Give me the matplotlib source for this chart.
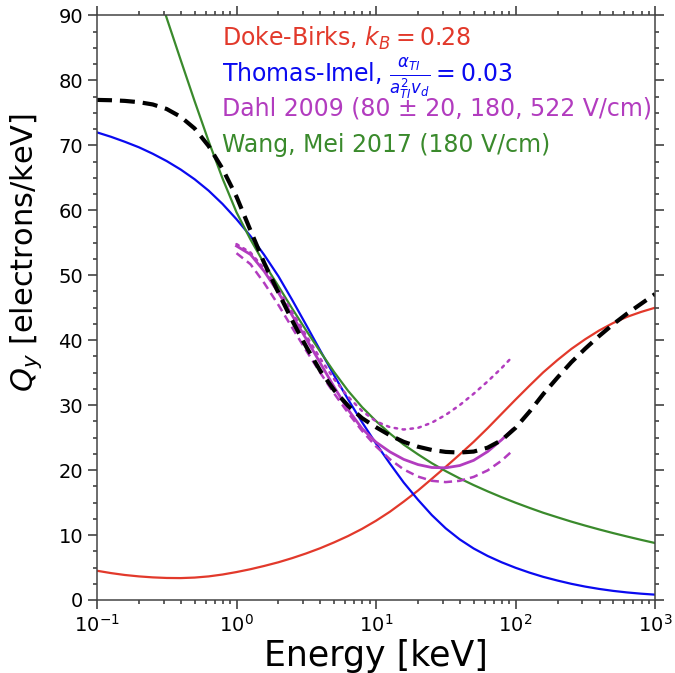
import matplotlib
matplotlib.use("Agg")
import matplotlib.pyplot as plt
from matplotlib.ticker import AutoMinorLocator, LogLocator

# Energy grid (keV), ten points per decade
energy = [0.1, 0.126, 0.158, 0.2, 0.251, 0.316, 0.398, 0.501, 0.631, 0.794,
          1, 1.26, 1.58, 2.0, 2.51, 3.16, 3.98, 5.01, 6.31, 7.94,
          10, 12.6, 15.8, 20.0, 25.1, 31.6, 39.8, 50.1, 63.1, 79.4,
          100, 126, 158, 200, 251, 316, 398, 501, 631, 794, 1000]

# Charge yield Q_y [electrons/keV]
doke_birks = [4.5, 4.14, 3.85, 3.63, 3.48, 3.39, 3.37, 3.45, 3.63, 3.92,
              4.3, 4.74, 5.24, 5.81, 6.45, 7.17, 7.97, 8.87, 9.85, 10.95,
              12.2, 13.6, 15.15, 16.85, 18.65, 20.5, 22.4, 24.35, 26.45, 28.65,
              30.85, 33.0, 35.05, 36.95, 38.65, 40.15, 41.5, 42.65, 43.6, 44.35,
              45.0]
thomas_imel = [72.0, 71.32, 70.56, 69.70, 68.71, 67.58, 66.28, 64.78, 63.03, 60.98,
               58.63, 56.03, 53.13, 49.83, 46.18, 42.33, 38.43, 34.58, 30.88, 27.38,
               24.08, 20.98, 18.08, 15.43, 13.08, 11.03, 9.33, 7.93, 6.78, 5.81,
               4.96, 4.21, 3.56, 2.99, 2.49, 2.06, 1.70, 1.40, 1.16, 0.97,
               0.82]
combined = [77.0, 76.95, 76.85, 76.65, 76.30, 75.6, 74.4, 72.6, 69.9, 66.4,
            62.1, 56.9, 51.9, 47.3, 43.0, 39.0, 35.3, 32.3, 29.9, 28.0,
            26.6, 25.35, 24.35, 23.6, 23.1, 22.8, 22.7, 22.85, 23.45, 24.6,
            26.5, 29.0, 31.7, 34.25, 36.6, 38.7, 40.65, 42.45, 44.1, 45.6,
            47.1]

# Wang & Mei 2017 (180 V/cm)
wang_energy = energy[4:]
wang_mei = [96.1, 89.6, 83.15, 76.8, 70.65, 64.9,
            59.7, 55.5, 51.8, 48.3, 44.85, 41.5, 38.25, 35.1, 32.2, 29.7,
            27.55, 25.62, 23.92, 22.42, 21.07, 19.84, 18.72, 17.69, 16.73, 15.83,
            14.98, 14.18, 13.43, 12.73, 12.07, 11.45, 10.86, 10.3, 9.77, 9.26,
            8.77]

# Dahl 2009 fits at 80, 180 and 522 V/cm
dahl_energy = [1, 1.26, 1.58, 2.0, 2.51, 3.16, 3.98, 5.01, 6.31, 7.94,
               10, 12.6, 15.8, 20.0, 25.1, 31.6, 39.8, 50.1, 63.1, 79.4, 95]
dahl_80 = [54.8, 53.5, 51.0, 47.8, 44.3, 40.7, 37.2, 34.0, 31.3, 29.1,
           27.5, 26.6, 26.25, 26.5, 27.3, 28.5, 30.0, 31.75, 33.65, 35.7, 37.46]
dahl_180 = [54.5, 53.2, 50.6, 47.3, 43.8, 40.2, 36.5, 32.8, 29.3, 26.4,
            24.3, 22.8, 21.65, 20.85, 20.4, 20.35, 20.7, 21.5, 22.85, 24.65, 26.25]
dahl_522 = [53.4, 51.7, 48.8, 45.4, 41.9, 38.4, 35.0, 31.8, 28.8, 26.05,
            23.65, 21.65, 20.1, 19.0, 18.35, 18.15, 18.35, 18.95, 19.95, 21.45, 22.97]

labels = [
    r"Doke-Birks, $k_B = 0.28$",
    r"Thomas-Imel, $\frac{\alpha_{TI}}{a_{TI}^2 v_d} = 0.03$",
    "Dahl 2009 (80 ± 20, 180, 522 V/cm)",
    "Wang, Mei 2017 (180 V/cm)",
]

RED = "#e2392b"
BLUE = "#0a0af0"
MAGENTA = "#b23cbf"
GREEN = "#3a8a2c"

fig = plt.figure(figsize=(6.75, 6.73), dpi=100)
ax = fig.add_axes([0.1437, 0.1085, 0.8267, 0.8685])

ax.plot(energy, doke_birks, color=RED, lw=1.6)
ax.plot(energy, thomas_imel, color=BLUE, lw=1.6)
ax.plot(wang_energy, wang_mei, color=GREEN, lw=1.6)
ax.plot(dahl_energy, dahl_80, color=MAGENTA, lw=1.8, ls=(0, (1, 2.2)),
        dash_capstyle="round")
ax.plot(dahl_energy, dahl_180, color=MAGENTA, lw=2.0)
ax.plot(dahl_energy, dahl_522, color=MAGENTA, lw=1.8, ls=(0, (3.3, 2.0)))
ax.plot(energy, combined, color="black", lw=3.0, ls=(0, (3.6, 1.9)))

ax.set_xscale("log")
ax.set_xlim(0.1, 1000)
ax.set_ylim(0, 90)
ax.yaxis.set_minor_locator(AutoMinorLocator(4))
ax.xaxis.set_minor_locator(LogLocator(base=10, subs=range(2, 10), numticks=20))

ax.tick_params(which="both", direction="out", top=True, right=True,
               labelsize=14, width=1.1, color="#333333")
ax.tick_params(which="major", length=6.5)
ax.tick_params(which="minor", length=3.2)
for sp in ax.spines.values():
    sp.set_color("#444444")
    sp.set_linewidth(1.1)

ax.set_xlabel("Energy [keV]", fontsize=25, labelpad=2)
ax.set_ylabel(r"$Q_y$ [electrons/keV]", fontsize=22)
ax.yaxis.set_label_coords(-0.095, 0.595)

text_colors = [RED, BLUE, MAGENTA, GREEN]
text_y = [0.9474, 0.8865, 0.8288, 0.766]
for lab, col, ty in zip(labels, text_colors, text_y):
    ax.text(0.2235, ty, lab, color=col, fontsize=17, transform=ax.transAxes,
            ha="left", va="baseline")

fig.savefig("out.png", dpi=100)
